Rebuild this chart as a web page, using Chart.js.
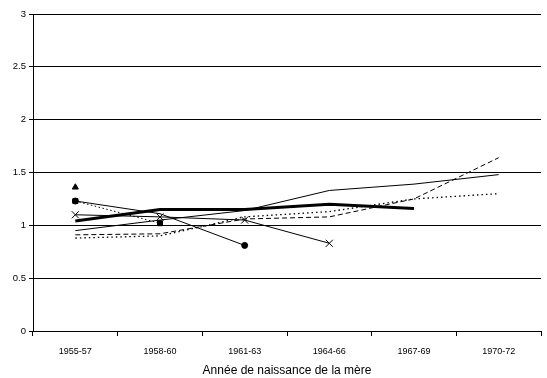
<!DOCTYPE html>
<html>
<head>
<meta charset="utf-8">
<script src="https://cdn.jsdelivr.net/npm/chart.js@4/dist/chart.umd.min.js"></script>
<style>
html,body{margin:0;padding:0;background:#fff;}
#wrap{width:547px;height:378px;position:relative;}
</style>
</head>
<body>
<div id="wrap"><canvas id="c" width="547" height="378"></canvas></div>
<script>
const categories = ["1955-57","1958-60","1961-63","1964-66","1967-69","1970-72"];
const yTicks = [0, 0.5, 1, 1.5, 2, 2.5, 3];
const thinSolid = [0.95, 1.05, 1.14, 1.33, 1.39, 1.48];
const thickSolid = [1.04, 1.15, 1.15, 1.20, 1.16, null];
const dashed = [0.91, 0.92, 1.06, 1.08, 1.25, 1.64];
const dotted = [0.88, 0.90, 1.08, 1.13, 1.25, 1.30];
const circleSeries = [1.23, 1.11, 0.81, null, null, null];
const squareSeries = [1.23, 1.02, null, null, null, null];
const triangleSeries = [1.36, null, null, null, null, null];
const crossSeries = [1.10, 1.08, 1.05, 0.83, null, null];
const xTitle = "Année de naissance de la mère";

const FONT = "'Liberation Sans', Arial, sans-serif";

new Chart(document.getElementById('c'), {
  type: 'line',
  data: {
    labels: categories,
    datasets: [
      {data: crossSeries, borderColor:'#000', borderWidth:1, pointStyle:'crossRot', pointRadius:5, pointBorderColor:'#000', pointBorderWidth:1},
      {data: thickSolid, borderColor:'#000', borderWidth:3, pointRadius:0},
      {data: thinSolid, borderColor:'#000', borderWidth:1, pointRadius:0},
      {data: dashed, borderColor:'#000', borderWidth:1, borderDash:[5,3], pointRadius:0},
      {data: dotted, borderColor:'#000', borderWidth:1.3, borderDash:[1.5,3], pointRadius:0},
      {data: squareSeries, borderColor:'#000', borderWidth:1, borderDash:[1.5,2.5], pointStyle:'rect', pointRadius:3.5, pointBackgroundColor:'#000', pointBorderColor:'#000'},
      {data: circleSeries, borderColor:'#000', borderWidth:1, pointStyle:'circle', pointRadius:[3,0,3], backgroundColor:'#000', pointBackgroundColor:'#000'},
      {data: triangleSeries, borderColor:'#000', borderWidth:1, pointStyle:'triangle', pointRadius:3.5, pointBackgroundColor:'#000', pointBorderColor:'#000', showLine:false}
    ]
  },
  options: {
    responsive:false,
    animation:false,
    events:[],
    layout:{padding:{left:0,right:6,top:14,bottom:0}},
    plugins:{legend:{display:false},tooltip:{enabled:false}},
    elements:{line:{tension:0}},
    scales:{
      x:{
        offset:true,
        grid:{offset:true, drawOnChartArea:false, drawTicks:true, tickLength:5, color:'#000'},
        border:{color:'#000', width:1},
        ticks:{color:'#000', font:{family:FONT,size:9}, padding:10, maxRotation:0},
        title:{display:true, text:xTitle, color:'#000', font:{family:FONT,size:12}, padding:{top:1,bottom:0}},
        afterFit:(s)=>{s.height = 47;}
      },
      y:{
        min:0, max:3,
        afterBuildTicks:(s)=>{s.ticks = yTicks.map(v=>({value:v}));},
        grid:{color:'#000', tickLength:4, drawTicks:true},
        border:{color:'#000', width:1},
        ticks:{color:'#000', font:{family:FONT,size:9.5}, padding:3, callback:(v)=>String(v)},
        afterFit:(s)=>{s.width = 33;}
      }
    }
  }
});
</script>
</body>
</html>
